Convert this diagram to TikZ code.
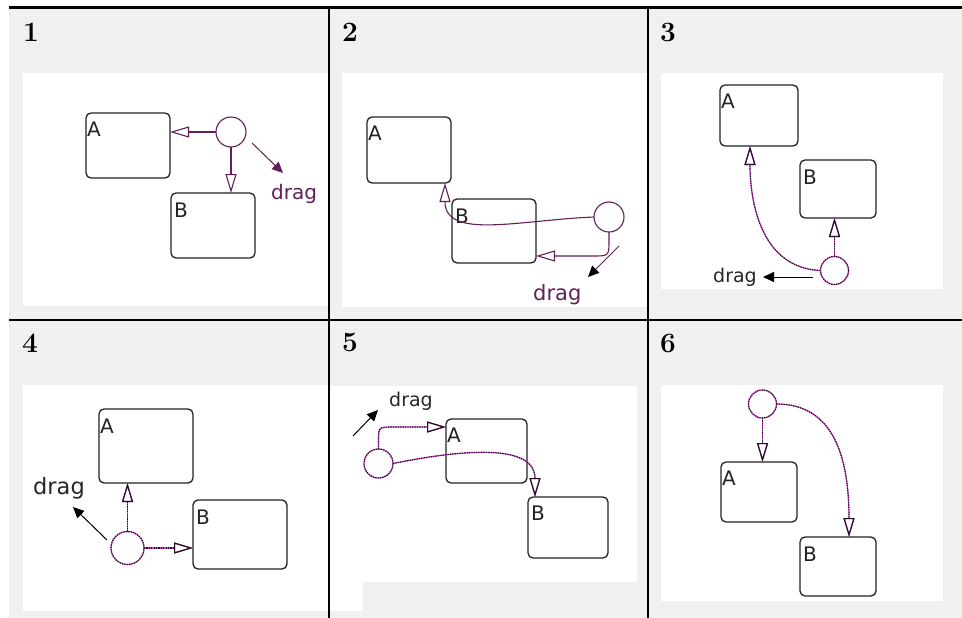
\documentclass[tikz,border=0pt]{standalone}
\usepackage{fontspec}
\newfontfamily\lblfont{DejaVu Sans}
\usetikzlibrary{arrows.meta}
\definecolor{bgray}{HTML}{F0F0F0}
\definecolor{trpur}{RGB}{98,32,88}
\definecolor{selmag}{RGB}{200,70,200}
\definecolor{seldark}{RGB}{40,15,40}
\definecolor{boxc}{RGB}{35,35,35}
\begin{document}
\begin{tikzpicture}[x=1pt,y=-1pt,
  state/.style={draw=boxc, line width=1.3pt, rounded corners=5pt, inner sep=0pt, outer sep=0pt},
  stlbl/.style={font=\lblfont\fontsize{20}{20}\selectfont, text=boxc, inner sep=0pt, anchor=north west},
  num/.style={font=\fontsize{28}{30}\selectfont\bfseries, inner sep=0pt, anchor=base west},
  dragtxt/.style={font=\lblfont\fontsize{#1}{#1}\selectfont, inner sep=0pt, anchor=base west},
  junc/.style={circle, draw=trpur, line width=1.1pt, minimum size=#1, inner sep=0pt, outer sep=0pt},
  seljunc/.style={circle, draw=selmag, line width=1.2pt, minimum size=#1, inner sep=0pt, outer sep=0pt,
     postaction={draw=seldark, dash pattern=on 1.2pt off 1.2pt, line width=1.2pt}},
  tr/.style={draw=trpur, line width=1.1pt, -{Triangle[open, length=19pt, width=11pt, line width=1.1pt]}},
  seltr/.style={draw=selmag, line width=1.2pt, -{Triangle[open, length=19pt, width=11pt, line width=1.2pt]},
     postaction={draw=seldark, dash pattern=on 1.2pt off 1.2pt, line width=1.2pt}},
  dragarr/.style={line width=1pt, -{Triangle[length=11pt, width=10pt]}},
  grid/.style={line width=2.2pt, draw=black}
]
\useasboundingbox (0,0) rectangle (962,618);
% backgrounds
\fill[white] (0,0) rectangle (962,618);
\fill[bgray] (9,7.5) rectangle (962,618);
\fill[white] (23,73) rectangle (328,306);
\fill[white] (342,73) rectangle (647,307);
\fill[white] (661,73) rectangle (943,289);
\fill[white] (23,385) rectangle (328,611);
\fill[white] (329,386) -- (637,386) -- (637,582) -- (363,582) -- (363,611) -- (329,611) -- cycle;
\fill[white] (661,385) rectangle (943,601);
% grid lines
\draw[grid] (9,7.5) -- (962,7.5);
\draw[grid] (9,320) -- (962,320);
\draw[grid] (329,7.5) -- (329,618);
\draw[grid] (648,7.5) -- (648,618);
% numbers
\node[num] (n1) at (23,42) {1};
\node[num] (n2) at (342,42) {2};
\node[num] (n3) at (660,42) {3};
\node[num] (n4) at (22,352) {4};
\node[num] (n5) at (342,351) {5};
\node[num] (n6) at (660,352) {6};

% ---------- panel 1
\node[state, minimum width=84pt, minimum height=65pt] (A1) at (128,145.5) {};
\node[stlbl] (A1l) at ([xshift=1pt,yshift=-9pt]A1.north west) {A};
\node[state, minimum width=84pt, minimum height=65pt] (B1) at (213,225.5) {};
\node[stlbl] (B1l) at ([xshift=3pt,yshift=-10pt]B1.north west) {B};
\node[junc=30pt] (c1) at (231,132) {};
\draw[tr] (c1.west) -- (c1 -| A1.east);
\draw[tr] (c1.south) -- (c1 |- B1.north);
\coordinate (d1s) at (252,143);
\coordinate (d1e) at (283,173);
\draw[dragarr, trpur] (d1s) -- (d1e);
\node[dragtxt=20, text=trpur] (d1t) at (271,199) {drag};

% ---------- panel 2
\node[state, minimum width=84pt, minimum height=66pt] (A2) at (409,150) {};
\node[stlbl] (A2l) at ([xshift=1pt,yshift=-9pt]A2.north west) {A};
\node[state, minimum width=84pt, minimum height=64pt] (B2) at (494,231) {};
\node[stlbl] (B2l) at ([xshift=3pt,yshift=-10pt]B2.north west) {B};
\node[junc=30pt] (c2) at (609,217) {};
\draw[tr] (c2.west) .. controls (520,220) and (445,240) .. ([xshift=-6pt]A2.south east);
\draw[tr] (c2.south) -- (609,240) .. controls (609,256) .. (593,256) -- (B2.east |- 0,256);
\coordinate (d2s) at (619,246);
\coordinate (d2e) at (588,277);
\draw[line width=1pt, trpur, -{Triangle[length=11pt, width=10pt, color=black]}] (d2s) -- (d2e);
\node[dragtxt=21, text=trpur] (d2t) at (533,300) {drag};

% ---------- panel 3
\node[state, minimum width=78pt, minimum height=61pt] (A3) at (759,115.5) {};
\node[stlbl] (A3l) at ([xshift=1pt,yshift=-9pt]A3.north west) {A};
\node[state, minimum width=76pt, minimum height=58pt] (B3) at (838,189) {};
\node[stlbl] (B3l) at ([xshift=3pt,yshift=-10pt]B3.north west) {B};
\node[seljunc=28pt] (c3) at (834.5,270.5) {};
\draw[seltr] (c3.north) -- (c3 |- B3.south);
\draw[seltr] (c3.west) .. controls (760,268) and (750,200) .. ([xshift=-9pt]A3.south);
\coordinate (d3s) at (813,277);
\coordinate (d3e) at (763,277);
\draw[dragarr, black] (d3s) -- (d3e);
\node[dragtxt=19, text=black!85] (d3t) at (713,282) {drag};

% ---------- panel 4
\node[state, minimum width=94pt, minimum height=74pt] (A4) at (146,446) {};
\node[stlbl] (A4l) at ([xshift=1pt,yshift=-10pt]A4.north west) {A};
\node[state, minimum width=94pt, minimum height=69pt] (B4) at (240,534.5) {};
\node[stlbl] (B4l) at ([xshift=3pt,yshift=-10pt]B4.north west) {B};
\node[seljunc=33pt] (c4) at (127.5,548) {};
\draw[seltr] (c4.north) -- (c4 |- A4.south);
\draw[seltr] (c4.east) -- (c4 -| B4.west);
\coordinate (d4s) at (107,540);
\coordinate (d4e) at (73,507);
\draw[dragarr, black] (d4s) -- (d4e);
\node[dragtxt=22.5, text=black!85] (d4t) at (33,494) {drag};

% ---------- panel 5
\node[state, minimum width=81pt, minimum height=64pt] (A5) at (486.5,451) {};
\node[stlbl] (A5l) at ([xshift=1pt,yshift=-9pt]A5.north west) {A};
\node[state, minimum width=80pt, minimum height=61pt] (B5) at (568,527.5) {};
\node[stlbl] (B5l) at ([xshift=3pt,yshift=-9pt]B5.north west) {B};
\node[seljunc=29pt] (c5) at (378.5,463.5) {};
\draw[seltr] (c5.north) -- (378.5,441) .. controls (378.5,427) .. (393,427) -- (A5.west |- 0,427);
\draw[seltr] (c5.east) .. controls (470,448) and (535,445) .. (535,0 |- B5.north);
\coordinate (d5s) at (353,436);
\coordinate (d5e) at (378,410);
\draw[dragarr, black] (d5s) -- (d5e);
\node[dragtxt=19, text=black!85] (d5t) at (389,406) {drag};

% ---------- panel 6
\node[state, minimum width=76pt, minimum height=60pt] (A6) at (759,492) {};
\node[stlbl] (A6l) at ([xshift=1pt,yshift=-9pt]A6.north west) {A};
\node[state, minimum width=76pt, minimum height=59pt] (B6) at (838,566.5) {};
\node[stlbl] (B6l) at ([xshift=3pt,yshift=-10pt]B6.north west) {B};
\node[seljunc=28pt] (c6) at (762.5,404) {};
\draw[seltr] (c6.south) -- (c6 |- A6.north);
\draw[seltr] (c6.east) .. controls (835,404) and (849,460) .. (849,0 |- B6.north);
\end{tikzpicture}
\end{document}
